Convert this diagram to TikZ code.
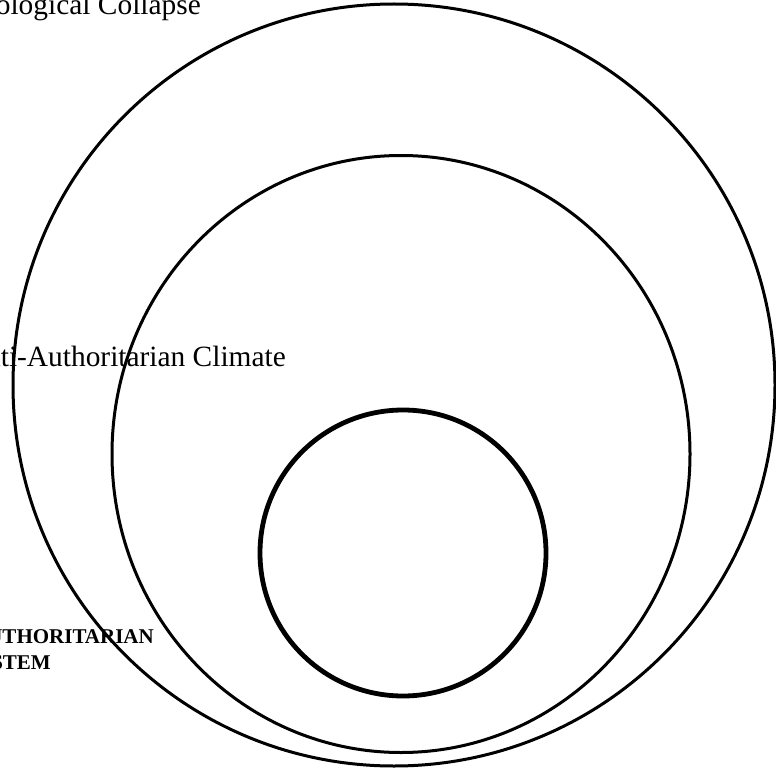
\documentclass[tikz,border=0pt]{standalone}
\usepackage{fontspec}
\setmainfont{Liberation Serif}
\usetikzlibrary{shapes.geometric}
\tikzset{
  ring/.style={draw=black, line width=3pt, circle, inner sep=0pt, fill=none},
  ringoval/.style={draw=black, line width=3pt, ellipse, inner sep=0pt, fill=none},
  corering/.style={draw=black, line width=4.8pt, circle, inner sep=0pt, fill=none},
  biglabel/.style={inner sep=0pt, font=\fontsize{29.4}{35}\selectfont},
  boldlabel/.style={inner sep=0pt, font=\fontsize{21}{25}\selectfont\bfseries},
}
\begin{document}
\begin{tikzpicture}[x=1pt,y=-1pt]
\useasboundingbox (0,0) rectangle (776,770);
\fill[white] (0,0) rectangle (776,770);
\clip (0,0) rectangle (776,770);
\node[ring, minimum size=762pt] (outer) at (394,385) {};
\node[ringoval, minimum width=578pt, minimum height=597pt] (middle) at (401,454) {};
\node[corering, minimum size=286pt] (inner) at (403,553) {};
\node[biglabel, anchor=base east] (eco) at (201,15) {Ecological Collapse};
\node[biglabel, anchor=base east] (anti) at (286,366) {Anti-Authoritarian Climate};
\node[boldlabel, anchor=base east] (auth) at (154,643) {AUTHORITARIAN};
\node[boldlabel, anchor=base east] (sys) at (51,669) {SYSTEM};
\end{tikzpicture}
\end{document}
